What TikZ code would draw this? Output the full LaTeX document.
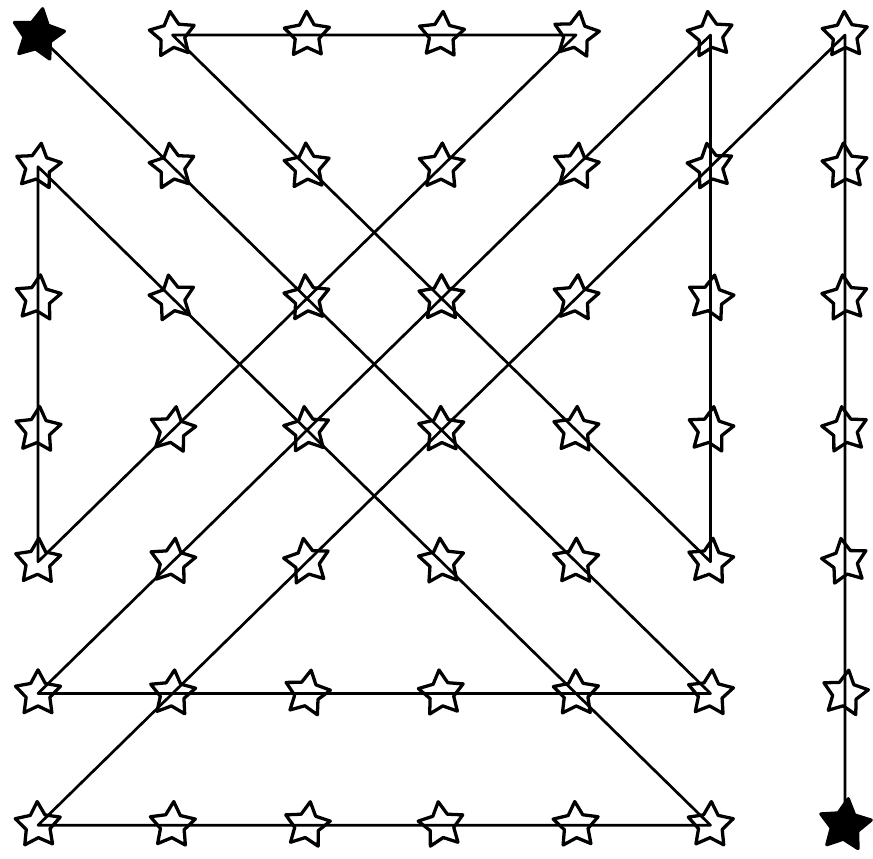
\documentclass[tikz,border=0pt]{standalone}
\usetikzlibrary{shapes.geometric}
\begin{document}
\begin{tikzpicture}[x=0.03cm,y=-0.03cm,
  starnode/.style={star, star points=5, star point ratio=1.9, minimum size=1.42cm, inner sep=0pt,
    draw=black, line width=2.8pt, fill=white, line join=round},
  blackstar/.style={starnode, fill=black, minimum size=1.6cm},
  pathline/.style={draw=black, line width=2.3pt, line join=round}]
\useasboundingbox (0,0) rectangle (873,858);
\fill[white] (0,0) rectangle (873,858);
\foreach \i in {0,...,6}{
  \foreach \j in {0,...,6}{
    \pgfmathsetmacro{\px}{38+134.5*\i}
    \pgfmathsetmacro{\py}{35+131.7*\j}
    \pgfmathsetmacro{\rot}{mod(\i*37+\j*23,21)-10}
    \ifnum\i\j=0\relax
      \node[blackstar, rotate=\rot] (s\i\j) at (\px,\py) {};
    \else\ifnum\i\j=66\relax
      \node[blackstar, rotate=\rot] (s\i\j) at (\px,\py) {};
    \else
      \node[starnode, rotate=\rot] (s\i\j) at (\px,\py) {};
    \fi\fi
  }
}
\draw[pathline] (s00.center) -- (s55.center) -- (s05.center) -- (s50.center) -- (s54.center)
  -- (s10.center) -- (s40.center) -- (s04.center) -- (s01.center) -- (s56.center)
  -- (s06.center) -- (s60.center) -- (s66.center);
\end{tikzpicture}
\end{document}
